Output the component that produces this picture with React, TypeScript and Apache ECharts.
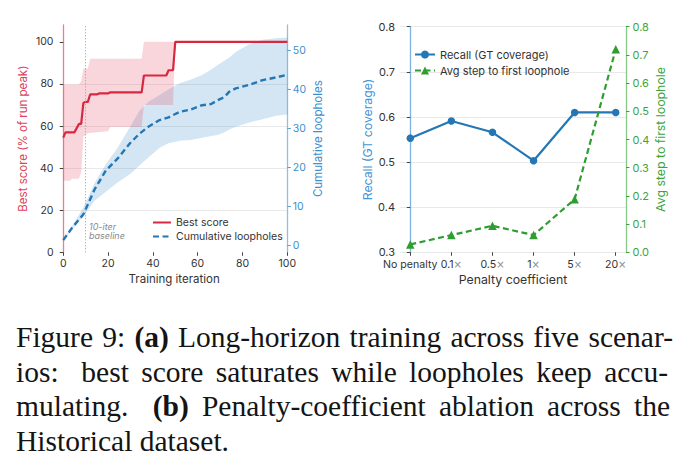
import React, { useEffect, useRef } from 'react';
import * as echarts from 'echarts';

// ---------- Panel (a): long-horizon training ----------
const ITER_TICKS = [0, 20, 40, 60, 80, 100];
const SCORE_TICKS = [0, 20, 40, 60, 80, 100];
const LOOP_TICKS = [0, 10, 20, 30, 40, 50];

// best score (% of run peak), mean across scenarios: [iteration, score]
const BEST_SCORE: [number, number][] = [
  [0, 54.5], [1, 57], [5, 57], [6, 59], [7, 61], [8, 61], [9, 71], [10, 71.5],
  [11, 71.5], [12, 75], [15, 75], [16, 75.5], [20, 75.5], [21, 76], [35, 76],
  [36, 84], [46, 84], [47, 86.5], [49, 86.5], [50, 100], [100, 100],
];

// spread of best score across scenarios
const SCORE_BAND_ITERS = [0, 3, 4, 7, 8, 9, 11, 12, 20, 21, 35, 36, 49, 50, 100];
const SCORE_BAND_HI = [79.7, 79.7, 79.7, 79.7, 81.3, 87.3, 87.3, 92, 92, 92, 92, 100, 100, 100, 100];
const SCORE_BAND_LO = [34, 34, 35, 35, 38, 55, 56.7, 56.7, 57.5, 59.5, 59.5, 70, 70, 100, 100];

// cumulative loopholes: mean and spread
const LOOP_ITERS = [0, 4, 9, 14, 19, 24, 30, 34, 38, 43, 47, 52, 57, 62, 66, 69, 72, 74, 77, 83, 89, 95, 100];
const LOOP_MEAN = [1.4, 4.6, 8.0, 14.4, 19.2, 22.1, 26.3, 28.6, 30.4, 32.1, 32.8, 34.2, 34.8, 35.9, 36.2, 37.2, 38.0, 39.3, 40.2, 41.1, 42.3, 43.0, 43.7];
const LOOP_HI = [1.6, 5.0, 9.8, 16.0, 20.8, 24.8, 30.5, 34.5, 36.8, 38.5, 40.0, 41.5, 42.5, 43.6, 45.0, 46.2, 47.3, 48.0, 49.5, 51.5, 52.6, 53.0, 53.2];
const LOOP_LO = [1.2, 4.2, 7.5, 11.5, 13.8, 16.0, 18.4, 20.5, 22.5, 25.0, 26.2, 26.8, 27.0, 27.6, 28.0, 28.3, 29.0, 29.6, 30.4, 31.5, 32.3, 33.2, 33.5];

const BASELINE_ITER = 10;

// ---------- Panel (b): penalty-coefficient ablation ----------
const PENALTY_LABELS = ['No penalty', '0.1×', '0.5×', '1×', '5×', '20×'];
const RECALL = [0.553, 0.591, 0.566, 0.503, 0.61, 0.61];
const AVG_STEP = [0.028, 0.061, 0.094, 0.061, 0.188, 0.72];

// ---------- Caption ----------
// a double space marks a sentence gap; *...* marks bold
const CAPTION_LINES = [
  'Figure 9: *(a)* Long-horizon training across five scenar-',
  'ios:  best score saturates while loopholes keep accu-',
  'mulating.  *(b)* Penalty-coefficient ablation across the',
  'Historical dataset.',
];

const FONT = 'Inter';
const SERIF = '"Liberation Serif", "Times New Roman", serif';
const RED = '#d8283f';
const BLUE = '#2377b4';
const GREEN = '#2e9e31';

const CAP_SIZE = 29.5;
const CAP_LEFT = 16;
const CAP_RIGHT = [673, 668, 670, null];
const CAP_Y = [337, 371.5, 406, 440.5];

function buildCaption() {
  const ctx = document.createElement('canvas').getContext('2d')!;
  const measure = (t: string, bold: boolean) => {
    ctx.font = `${bold ? 'bold ' : ''}${CAP_SIZE}px ${SERIF}`;
    return ctx.measureText(t).width;
  };
  const space = measure(' ', false);
  const out: any[] = [];
  CAPTION_LINES.forEach((line, li) => {
    const tokens = line.split(/( {1,2})/);
    const words: { text: string; bold: boolean; w: number }[] = [];
    const gaps: { nat: number; weight: number }[] = [];
    tokens.forEach((tok) => {
      if (tok === ' ') gaps.push({ nat: space, weight: 1 });
      else if (tok === '  ') gaps.push({ nat: space * 1.6, weight: 2.2 });
      else if (tok.length) {
        const bold = tok.startsWith('*');
        const text = bold ? tok.replace(/\*/g, '') : tok;
        words.push({ text, bold, w: measure(text, bold) });
      }
    });
    const right = CAP_RIGHT[li];
    let extra = 0;
    if (right != null) {
      const used = words.reduce((s, wd) => s + wd.w, 0) + gaps.reduce((s, g) => s + g.nat, 0);
      const weight = gaps.reduce((s, g) => s + g.weight, 0);
      extra = (right - CAP_LEFT - used) / weight;
    }
    let x = CAP_LEFT;
    words.forEach((wd, i) => {
      out.push({
        type: 'text',
        x,
        y: CAP_Y[li],
        silent: true,
        style: {
          text: wd.text,
          fill: '#141414',
          fontFamily: SERIF,
          fontSize: CAP_SIZE,
          fontWeight: wd.bold ? 'bold' : 'normal',
          align: 'left',
          verticalAlign: 'middle',
        },
      });
      if (i < gaps.length) x += wd.w + gaps[i].nat + extra * gaps[i].weight;
    });
  });
  return out;
}

function band(name: string, xs: number[], lo: number[], hi: number[], yAxisIndex: number, fill: string, z: number) {
  return {
    type: 'custom',
    name,
    xAxisIndex: 0,
    yAxisIndex,
    z,
    silent: true,
    data: [[xs[0], lo[0]]],
    encode: { x: 0, y: 1 },
    renderItem: (_p: any, api: any) => {
      const top = xs.map((x, i) => api.coord([x, hi[i]]));
      const bottom = xs.map((x, i) => api.coord([x, lo[i]])).reverse();
      return { type: 'polygon', shape: { points: top.concat(bottom) }, style: { fill } };
    },
  };
}

function buildOption() {
  const tickLabel = (color: string, size: number, margin: number) => ({
    color,
    fontSize: size,
    fontFamily: FONT,
    margin,
  });
  const axisName = (color: string, size: number) => ({ color, fontSize: size, fontFamily: FONT });

  return {
    animation: false,
    backgroundColor: '#ffffff',
    grid: [
      { left: 61, top: 25, width: 226.3, height: 227.3 },
      { left: 400, top: 26.7, width: 226, height: 225.6 },
    ],
    legend: [
      {
        data: ['Best score', 'Cumulative loopholes'],
        orient: 'vertical',
        left: 147,
        top: 212,
        itemWidth: 18,
        itemHeight: 9,
        itemGap: 3,
        itemStyle: { opacity: 0 },
        textStyle: { color: '#333', fontSize: 10.5, fontFamily: FONT },
        selectedMode: false,
      },
      {
        data: ['Recall (GT coverage)', 'Avg step to first loophole'],
        orient: 'vertical',
        left: 409,
        top: 44,
        itemWidth: 20,
        itemHeight: 10,
        itemGap: 5,
        textStyle: { color: '#333', fontSize: 11, fontFamily: FONT },
        selectedMode: false,
      },
    ],
    xAxis: [
      {
        type: 'value',
        gridIndex: 0,
        min: -1,
        max: 100,
        name: 'Training iteration',
        nameLocation: 'middle',
        nameGap: 21,
        nameTextStyle: axisName('#333', 11.5),
        axisLine: { show: false },
        axisTick: { show: true, customValues: ITER_TICKS, length: 3.5, lineStyle: { color: '#444' } },
        axisLabel: { ...tickLabel('#333', 10.5, 6), customValues: ITER_TICKS },
        splitLine: { show: false },
      },
      {
        type: 'value',
        gridIndex: 1,
        min: -0.25,
        max: 5.25,
        name: 'Penalty coefficient',
        nameLocation: 'middle',
        nameGap: 21,
        nameTextStyle: axisName('#333', 12.3),
        axisLine: { show: false },
        axisTick: { show: true, customValues: [0, 1, 2, 3, 4, 5], length: 3.5, lineStyle: { color: '#444' } },
        axisLabel: {
          margin: 7,
          customValues: [0, 1, 2, 3, 4, 5],
          formatter: (v: number) => {
            const lab = PENALTY_LABELS[Math.round(v)];
            return lab.endsWith('×') ? `{n|${lab.slice(0, -1)}}{x|×}` : `{n|${lab}}`;
          },
          rich: {
            n: { color: '#333', fontSize: 10.6, fontFamily: FONT },
            x: { color: '#8a8a8a', fontSize: 10, fontFamily: 'DejaVu Sans' },
          },
        },
        splitLine: { show: false },
      },
    ],
    yAxis: [
      {
        type: 'value',
        gridIndex: 0,
        position: 'left',
        min: 0,
        max: 108,
        interval: 20,
        name: 'Best score (% of run peak)',
        nameLocation: 'middle',
        nameGap: 32,
        nameTextStyle: axisName('#e0415a', 11.5),
        axisLine: { show: true, lineStyle: { color: '#e8818f', width: 1.3 } },
        axisTick: { show: true, customValues: SCORE_TICKS, length: 3.5, lineStyle: { color: '#444' } },
        axisLabel: { ...tickLabel('#333', 10.5, 7.5), customValues: SCORE_TICKS },
        splitLine: { show: true, showMinLine: false, showMaxLine: false, lineStyle: { color: '#e9e9e9', width: 1 } },
      },
      {
        type: 'value',
        gridIndex: 0,
        position: 'right',
        min: -1.7,
        max: 56.4,
        name: 'Cumulative loopholes',
        nameLocation: 'middle',
        nameGap: 25,
        nameTextStyle: axisName('#3b8fd0', 11.5),
        axisLine: { show: true, lineStyle: { color: '#8fbfe2', width: 1.3 } },
        axisTick: { show: true, customValues: LOOP_TICKS, length: 3.5, lineStyle: { color: '#5b9fd6' } },
        axisLabel: { ...tickLabel('#3b8fd0', 10.5, 5.5), customValues: LOOP_TICKS },
        splitLine: { show: false },
      },
      {
        type: 'value',
        gridIndex: 1,
        position: 'left',
        min: 0.3,
        max: 0.8,
        interval: 0.1,
        name: 'Recall (GT coverage)',
        nameLocation: 'middle',
        nameGap: 27,
        nameTextStyle: axisName('#4496d6', 12.3),
        axisLine: { show: true, lineStyle: { color: '#7db3de', width: 1.3 } },
        axisTick: { show: true, length: 3.5, lineStyle: { color: '#444' } },
        axisLabel: { ...tickLabel('#333', 11, 5), formatter: (v: number) => v.toFixed(1) },
        splitLine: { show: true, lineStyle: { color: '#e9e9e9', width: 1 } },
      },
      {
        type: 'value',
        gridIndex: 1,
        position: 'right',
        min: 0,
        max: 0.8,
        interval: 0.1,
        name: 'Avg step to first loophole',
        nameLocation: 'middle',
        nameGap: 28,
        nameTextStyle: axisName('#3aa53c', 12.3),
        axisLine: { show: true, lineStyle: { color: '#88c888', width: 1.3 } },
        axisTick: { show: true, length: 3.5, lineStyle: { color: '#3aa53c' } },
        axisLabel: { ...tickLabel('#3aa53c', 11, 6.5), formatter: (v: number) => v.toFixed(1) },
        splitLine: { show: false },
      },
    ],
    series: [
      band('loophole spread', LOOP_ITERS, LOOP_LO, LOOP_HI, 1, 'rgba(41, 128, 196, 0.2)', 1),
      band('score spread', SCORE_BAND_ITERS, SCORE_BAND_LO, SCORE_BAND_HI, 0, 'rgba(228, 70, 95, 0.22)', 2),
      {
        type: 'line',
        name: 'Cumulative loopholes',
        xAxisIndex: 0,
        yAxisIndex: 1,
        z: 3,
        symbol: 'none',
        color: BLUE,
        lineStyle: { color: BLUE, width: 2.4, type: [6, 3.5] },
        data: LOOP_ITERS.map((x, i) => [x, LOOP_MEAN[i]]),
      },
      {
        type: 'line',
        name: 'Best score',
        xAxisIndex: 0,
        yAxisIndex: 0,
        z: 4,
        symbol: 'none',
        color: RED,
        lineStyle: { color: RED, width: 2.2 },
        data: BEST_SCORE,
        markLine: {
          silent: true,
          symbol: ['none', 'none'],
          label: { show: false },
          lineStyle: { color: '#9a9a9a', width: 1, type: [1, 2] },
          data: [{ xAxis: BASELINE_ITER }],
        },
      },
      {
        type: 'line',
        name: 'Recall (GT coverage)',
        xAxisIndex: 1,
        yAxisIndex: 2,
        z: 4,
        symbol: 'circle',
        symbolSize: 7.5,
        color: BLUE,
        lineStyle: { color: BLUE, width: 2.2 },
        itemStyle: { color: BLUE },
        data: RECALL.map((v, i) => [i, v]),
      },
      {
        type: 'line',
        name: 'Avg step to first loophole',
        xAxisIndex: 1,
        yAxisIndex: 3,
        z: 4,
        symbol: 'triangle',
        symbolSize: 8.5,
        color: GREEN,
        lineStyle: { color: GREEN, width: 2.2, type: [6, 3.5] },
        itemStyle: { color: GREEN },
        data: AVG_STEP.map((v, i) => [i, v]),
      },
    ],
    graphic: [
      {
        type: 'text',
        x: 89,
        y: 231,
        silent: true,
        style: {
          text: '10-iter\nbaseline',
          fill: '#8c8c8c',
          fontSize: 9,
          lineHeight: 9.6,
          fontStyle: 'italic',
          fontFamily: FONT,
          verticalAlign: 'middle',
        },
      },
      ...buildCaption(),
    ],
  };
}

export default function App() {
  const ref = useRef<HTMLDivElement>(null);
  useEffect(() => {
    if (!ref.current) return;
    const chart = echarts.init(ref.current, null, { renderer: 'svg' });
    chart.setOption(buildOption() as any);
    return () => chart.dispose();
  }, []);
  return (
    <div
      ref={ref}
      style={{ position: 'fixed', left: 0, top: 0, width: 691, height: 476, background: '#ffffff' }}
    />
  );
}
